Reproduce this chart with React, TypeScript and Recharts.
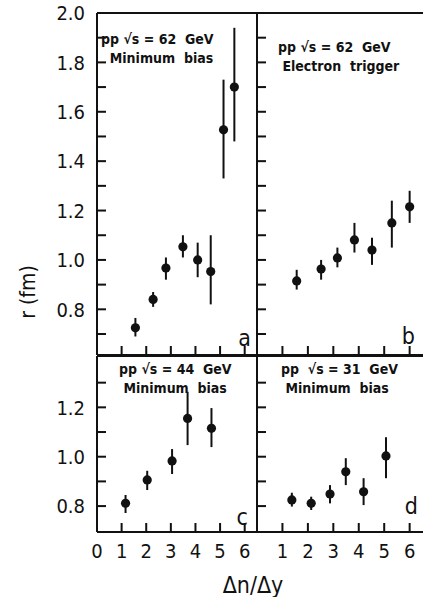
import { ScatterChart, Scatter, XAxis, YAxis, ErrorBar } from "recharts";

// four panels of r (fm) vs Δn/Δy.
// each point: centre value plus lower / upper end of its error bar

// a: pp √s = 62 GeV, minimum bias
const aX = [1.56, 2.28, 2.8, 3.49, 4.09, 4.62, 5.14, 5.58];
const aY = [0.725, 0.84, 0.967, 1.053, 1.0, 0.953, 1.527, 1.7];
const aLo = [0.69, 0.81, 0.92, 1.01, 0.93, 0.82, 1.33, 1.48];
const aHi = [0.765, 0.87, 1.01, 1.1, 1.07, 1.1, 1.73, 1.94];

// b: pp √s = 62 GeV, electron trigger
const bX = [1.56, 2.52, 3.16, 3.83, 4.52, 5.3, 6.0];
const bY = [0.915, 0.963, 1.008, 1.081, 1.04, 1.15, 1.215];
const bLo = [0.88, 0.92, 0.97, 1.03, 0.98, 1.05, 1.15];
const bHi = [0.96, 1.0, 1.05, 1.15, 1.09, 1.24, 1.28];

// c: pp √s = 44 GeV, minimum bias
const cX = [1.16, 2.04, 3.05, 3.68, 4.65];
const cY = [0.811, 0.906, 0.983, 1.155, 1.115];
const cLo = [0.772, 0.865, 0.93, 1.047, 1.039];
const cHi = [0.845, 0.943, 1.031, 1.263, 1.197];

// d: pp √s = 31 GeV, minimum bias
const dX = [1.37, 2.13, 2.87, 3.49, 4.19, 5.07];
const dY = [0.825, 0.811, 0.849, 0.939, 0.858, 1.003];
const dLo = [0.798, 0.784, 0.811, 0.885, 0.804, 0.913];
const dHi = [0.854, 0.838, 0.885, 0.994, 0.913, 1.079];

const xTicksInner = [1, 2, 3, 4, 5, 6];
const xTicksFirst = [0, 1, 2, 3, 4, 5, 6];
const yTicksTop = [0.7, 0.8, 0.9, 1.0, 1.1, 1.2, 1.3, 1.4, 1.5, 1.6, 1.7, 1.8, 1.9, 2.0];
const yTicksBottom = [0.8, 0.9, 1.0, 1.1, 1.2, 1.3];

const W = 440;
const H = 597;
const FONT = "'DejaVu Sans Condensed', 'DejaVu Sans', sans-serif";
const INK = "#111";
const TLEN = 9; // tick length, drawn into the frame
const TW = 2; // tick thickness
const GAP = 12; // label distance from the frame

function rows(x: number[], y: number[], lo: number[], hi: number[]) {
  return x.map((v, i) => ({ x: v, y: y[i], err: [y[i] - lo[i], hi[i] - y[i]] }));
}

const dot = (p: any) => <circle cx={p.cx} cy={p.cy} r={4.6} fill={INK} />;

const majorOnly = (v: number) => (Math.round(v * 10) % 2 === 0 ? v.toFixed(1) : "");

type Side = "left" | "right" | "top" | "bottom";

// tick with the mark inside the frame and the label outside.
// x/y come in already moved GAP px away from the axis line.
function inwardTick(side: Side, draw: boolean, label?: (v: number) => string) {
  return (props: any) => {
    const x = Number(props.x);
    const y = Number(props.y);
    const text = label ? label(props.payload.value) : "";
    let m = null;
    if (draw) {
      if (side === "left") m = <rect x={x + GAP} y={y - TW / 2} width={TLEN} height={TW} fill={INK} />;
      if (side === "right") m = <rect x={x - GAP - TLEN} y={y - TW / 2} width={TLEN} height={TW} fill={INK} />;
      if (side === "bottom") m = <rect x={x - TW / 2} y={y - GAP - TLEN} width={TW} height={TLEN} fill={INK} />;
      if (side === "top") m = <rect x={x - TW / 2} y={y + GAP} width={TW} height={TLEN} fill={INK} />;
    }
    return (
      <g>
        {m}
        {text ? (
          <text
            x={x}
            y={y}
            dy={side === "bottom" ? "0.72em" : "0.36em"}
            textAnchor={side === "left" ? "end" : "middle"}
            fill={INK}
            fontSize={20}
            fontFamily={FONT}
          >
            {text}
          </text>
        ) : null}
      </g>
    );
  };
}

interface PanelProps {
  data: { x: number; y: number; err: number[] }[];
  plot: { x0: number; x1: number; y0: number; y1: number };
  xDomain: [number, number];
  yDomain: [number, number];
  yTicks: number[];
  xTicks: number[];
  yLabels?: boolean;
  xLabels?: boolean;
  topTicks?: boolean;
  leftTicks?: boolean;
  rightTicks?: boolean;
}

function Panel(p: PanelProps) {
  // axes get a 30px box (like recharts' default) taken out of the margin
  const AXB = 30;
  const margin = {
    left: p.plot.x0 - AXB,
    top: p.plot.y0 - AXB < 0 ? 0 : p.plot.y0 - AXB,
    right: W - p.plot.x1 - AXB,
    bottom: H - p.plot.y1 - AXB,
  };
  const topBox = p.plot.y0 - margin.top;
  const line = { stroke: INK, strokeWidth: 2 };
  return (
    <div style={{ position: "absolute", left: 0, top: 0 }}>
      <ScatterChart width={W} height={H} margin={margin}>
        <XAxis
          type="number"
          dataKey="x"
          domain={p.xDomain}
          ticks={p.xTicks}
          interval={0}
          height={AXB}
          axisLine={line}
          tickLine={false}
          tickSize={0}
          tickMargin={GAP}
          tick={inwardTick("bottom", true, p.xLabels ? (v) => String(v) : undefined)}
        />
        <XAxis
          xAxisId="top"
          orientation="top"
          type="number"
          domain={p.xDomain}
          ticks={xTicksInner}
          interval={0}
          height={topBox}
          axisLine={line}
          tickLine={false}
          tickSize={0}
          tickMargin={GAP}
          tick={inwardTick("top", !!p.topTicks)}
        />
        <YAxis
          type="number"
          dataKey="y"
          domain={p.yDomain}
          ticks={p.yTicks}
          interval={0}
          width={AXB}
          axisLine={line}
          tickLine={false}
          tickSize={0}
          tickMargin={GAP}
          tick={inwardTick("left", !!p.leftTicks, p.yLabels ? majorOnly : undefined)}
        />
        <YAxis
          yAxisId="right"
          orientation="right"
          type="number"
          domain={p.yDomain}
          ticks={p.yTicks}
          interval={0}
          width={AXB}
          axisLine={line}
          tickLine={false}
          tickSize={0}
          tickMargin={GAP}
          tick={inwardTick("right", !!p.rightTicks)}
        />
        <Scatter data={p.data} shape={dot} isAnimationActive={false}>
          <ErrorBar dataKey="err" direction="y" width={0} stroke={INK} strokeWidth={2} isAnimationActive={false} />
        </Scatter>
      </ScatterChart>
    </div>
  );
}

const note = (left: number, top: number, lines: string[]) => (
  <div
    style={{
      position: "absolute",
      left,
      top,
      fontFamily: FONT,
      fontWeight: "bold",
      fontSize: 14,
      lineHeight: "19px",
      color: INK,
      whiteSpace: "pre",
    }}
  >
    {lines.join("\n")}
  </div>
);

const letter = (right: number, top: number, s: string) => (
  <div
    style={{
      position: "absolute",
      left: right - 20,
      width: 20,
      top,
      textAlign: "right",
      fontFamily: FONT,
      fontSize: 23,
      lineHeight: "23px",
      color: INK,
    }}
  >
    {s}
  </div>
);

export default function App() {
  const top = { y0: 13, y1: 355 };
  const bottom = { y0: 356, y1: 532 };
  return (
    <div style={{ position: "absolute", left: 0, top: 0, width: 423, height: 597, overflow: "hidden", background: "#fff" }}>
      <Panel
        data={rows(aX, aY, aLo, aHi)}
        plot={{ x0: 97, x1: 257, ...top }}
        xDomain={[0, 6.5]}
        yDomain={[0.615, 2.0]}
        yTicks={yTicksTop}
        xTicks={xTicksInner}
        yLabels
        topTicks
        leftTicks
      />
      <Panel
        data={rows(bX, bY, bLo, bHi)}
        plot={{ x0: 257, x1: 430, ...top }}
        xDomain={[0, 6.8]}
        yDomain={[0.615, 2.0]}
        yTicks={yTicksTop}
        xTicks={xTicksInner}
        topTicks
        leftTicks
        rightTicks
      />
      <Panel
        data={rows(cX, cY, cLo, cHi)}
        plot={{ x0: 97, x1: 257, ...bottom }}
        xDomain={[0, 6.5]}
        yDomain={[0.695, 1.408]}
        yTicks={yTicksBottom}
        xTicks={xTicksFirst}
        yLabels
        xLabels
        leftTicks
      />
      <Panel
        data={rows(dX, dY, dLo, dHi)}
        plot={{ x0: 257, x1: 430, ...bottom }}
        xDomain={[0, 6.8]}
        yDomain={[0.695, 1.408]}
        yTicks={yTicksBottom}
        xTicks={xTicksInner}
        xLabels
        leftTicks
        rightTicks
      />

      {note(101, 30, ["pp √s = 62  GeV", "  Minimum  bias"])}
      {note(278, 38, ["pp √s = 62  GeV", " Electron  trigger"])}
      {note(119, 360, ["pp √s = 44  GeV", " Minimum  bias"])}
      {note(281, 360, ["pp  √s = 31  GeV", " Minimum  bias"])}

      {letter(251, 327, "a")}
      {letter(415, 325, "b")}
      {letter(248, 506, "c")}
      {letter(418, 495, "d")}

      <div
        style={{
          position: "absolute",
          left: 28,
          top: 292,
          transform: "translate(-50%, -50%) rotate(-90deg)",
          fontFamily: FONT,
          fontSize: 21,
          color: INK,
          whiteSpace: "nowrap",
        }}
      >
        r  (fm)
      </div>
      <div
        style={{
          position: "absolute",
          left: 253,
          top: 572,
          transform: "translateX(-50%)",
          fontFamily: FONT,
          fontSize: 23,
          color: INK,
          whiteSpace: "nowrap",
        }}
      >
        Δn/Δy
      </div>
    </div>
  );
}
